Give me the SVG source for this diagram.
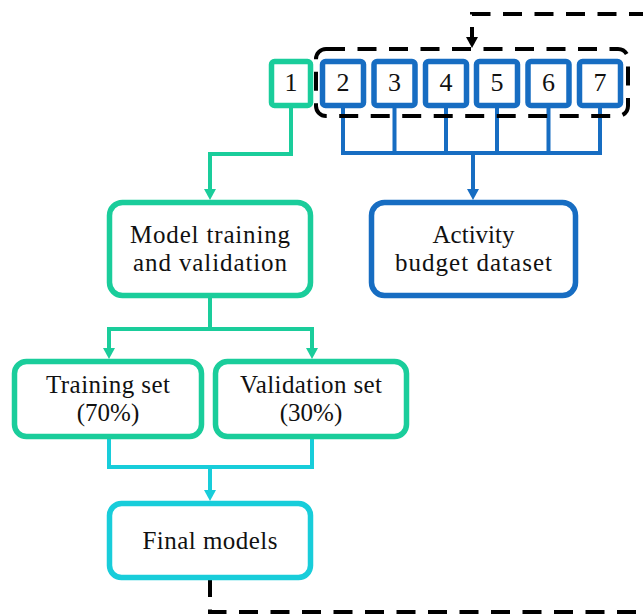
<svg xmlns="http://www.w3.org/2000/svg" width="643" height="615" viewBox="0 0 643 615">
  <style>
    .box { fill: #ffffff; stroke-width: 5.5; }
    .green { stroke: #1ACD9B; }
    .blue { stroke: #176DC2; }
    .cyan { stroke: #18CDDA; }
    .label { font-family: "Liberation Serif", "Times New Roman", serif; font-size: 25px; fill: #111111; text-anchor: middle; }
    .digit { font-size: 26px; }
    .link { fill: none; stroke-width: 4; stroke-linejoin: miter; }
    .dash { fill: none; stroke: #000000; stroke-width: 4; stroke-dasharray: 19 12.5; }
  </style>
  <defs>
    <marker id="arrow-green" markerUnits="userSpaceOnUse" markerWidth="12" markerHeight="12" viewBox="0 0 11 12" refX="3" refY="6" orient="auto">
      <path d="M0,0 L11,6 L0,12 Z" fill="#1ACD9B"/>
    </marker>
    <marker id="arrow-blue" markerUnits="userSpaceOnUse" markerWidth="12" markerHeight="12" viewBox="0 0 11 12" refX="3" refY="6" orient="auto">
      <path d="M0,0 L11,6 L0,12 Z" fill="#176DC2"/>
    </marker>
    <marker id="arrow-cyan" markerUnits="userSpaceOnUse" markerWidth="12" markerHeight="12" viewBox="0 0 11 12" refX="3" refY="6" orient="auto">
      <path d="M0,0 L11,6 L0,12 Z" fill="#18CDDA"/>
    </marker>
    <marker id="arrow-black" markerUnits="userSpaceOnUse" markerWidth="12" markerHeight="12" viewBox="0 0 11 12" refX="3" refY="6" orient="auto-start-reverse">
      <path d="M0,0 L11,6 L0,12 Z" fill="#000000"/>
    </marker>
  </defs>

  <!-- connectors -->
  <g id="connectors">
    <!-- source 1 to model training -->
    <path class="link green" d="M291,108 V154 H210 V192" marker-end="url(#arrow-green)"/>
    <!-- sources 2-7 merged into the activity budget dataset -->
    <path class="link blue" d="M343,108 V153 M394.5,108 V153 M446,108 V153 M497,108 V153 M548.5,108 V153 M600,108 V153"/>
    <path class="link blue" d="M341,153 H602"/>
    <path class="link blue" d="M473,153 V192" marker-end="url(#arrow-blue)"/>
    <!-- split into training / validation -->
    <path class="link green" d="M210,298 V329 M107,329 H314"/>
    <path class="link green" d="M109,329 V351" marker-end="url(#arrow-green)"/>
    <path class="link green" d="M312,329 V351" marker-end="url(#arrow-green)"/>
    <!-- merge into final models -->
    <path class="link cyan" d="M109,439 V467 H312 V439"/>
    <path class="link cyan" d="M210,467 V493" marker-end="url(#arrow-cyan)"/>
    <!-- feedback loop -->
    <path class="dash" d="M210,578 V612 H650"/>
    <path class="dash" style="stroke-dashoffset:6" d="M472,40 V14 H650" marker-start="url(#arrow-black)"/>
  </g>

  <!-- data sources -->
  <g id="source-1">
    <rect class="box green" x="271.5" y="61.5" width="39" height="44" rx="3"/>
    <text class="label digit" x="291" y="91">1</text>
  </g>
  <g id="source-2">
    <rect class="box blue" x="322.5" y="61.5" width="41" height="44" rx="3"/>
    <text class="label digit" x="343" y="91">2</text>
  </g>
  <g id="source-3">
    <rect class="box blue" x="374" y="61.5" width="41" height="44" rx="3"/>
    <text class="label digit" x="394.5" y="91">3</text>
  </g>
  <g id="source-4">
    <rect class="box blue" x="425.5" y="61.5" width="41" height="44" rx="3"/>
    <text class="label digit" x="446" y="91">4</text>
  </g>
  <g id="source-5">
    <rect class="box blue" x="476.5" y="61.5" width="41" height="44" rx="3"/>
    <text class="label digit" x="497" y="91">5</text>
  </g>
  <g id="source-6">
    <rect class="box blue" x="528" y="61.5" width="41" height="44" rx="3"/>
    <text class="label digit" x="548.5" y="91">6</text>
  </g>
  <g id="source-7">
    <rect class="box blue" x="579.5" y="61.5" width="41" height="44" rx="3"/>
    <text class="label digit" x="600" y="91">7</text>
  </g>

  <!-- dashed group around sources 2-7 -->
  <g id="source-group">
    <rect class="dash" x="316" y="49" width="312" height="67" rx="10"/>
  </g>

  <g id="model-training">
    <rect class="box green" x="109.5" y="202.5" width="201" height="93" rx="13"/>
    <text class="label" x="210" y="243" textLength="160">Model training</text>
    <text class="label" x="210" y="271" textLength="154">and validation</text>
  </g>

  <g id="activity-budget">
    <rect class="box blue" x="371.5" y="202.5" width="204" height="93" rx="13"/>
    <text class="label" x="473.5" y="243">Activity</text>
    <text class="label" x="473.5" y="271" textLength="157">budget dataset</text>
  </g>

  <g id="training-set">
    <rect class="box green" x="14.5" y="361.5" width="187" height="75" rx="12"/>
    <text class="label" x="108" y="393" textLength="124">Training set</text>
    <text class="label" x="108" y="421">(70%)</text>
  </g>

  <g id="validation-set">
    <rect class="box green" x="215.5" y="361.5" width="191" height="75" rx="12"/>
    <text class="label" x="311" y="393" textLength="142">Validation set</text>
    <text class="label" x="311" y="421">(30%)</text>
  </g>

  <g id="final-models">
    <rect class="box cyan" x="109.5" y="503.5" width="201" height="74" rx="12"/>
    <text class="label" x="210" y="549" textLength="135">Final models</text>
  </g>
</svg>
